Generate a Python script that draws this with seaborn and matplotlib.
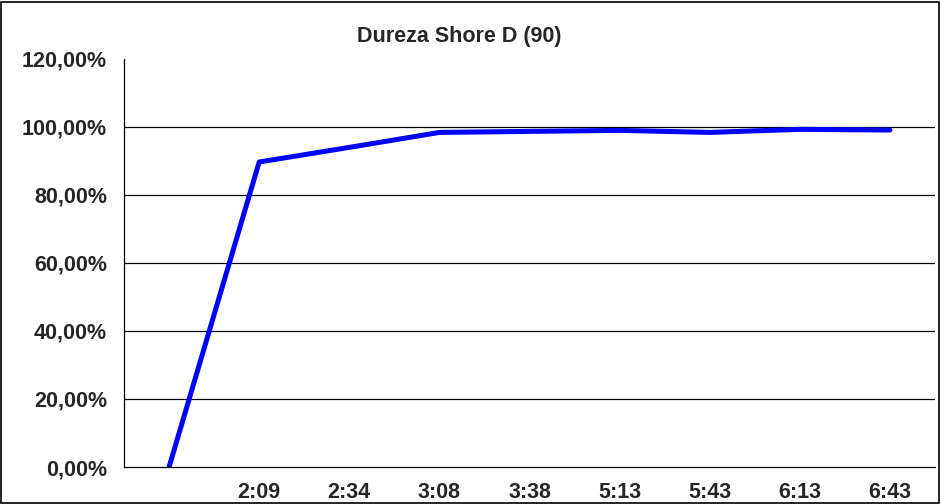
import matplotlib
matplotlib.use("Agg")
import matplotlib.pyplot as plt
import seaborn as sns
import pandas as pd
from matplotlib.patches import Rectangle
from matplotlib.ticker import FuncFormatter

sns.set_style("white")
plt.rcParams['font.family'] = ['Liberation Sans', 'DejaVu Sans']

# dados
tempos = ["", "2:09", "2:34", "3:08", "3:38", "5:13", "5:43", "6:13", "6:43"]
dureza = [0.0, 89.7, 94.0, 98.4, 98.7, 99.0, 98.4, 99.3, 99.1]

df = pd.DataFrame({"tempo": tempos, "dureza": dureza})

fig = plt.figure(figsize=(9.41, 5.04), dpi=100)
ax = fig.add_axes([0.1318, 0.0734, 0.8618, 0.8096])

sns.lineplot(data=df, x="tempo", y="dureza", color="#0000FF", linewidth=3.6,
             sort=False, ax=ax)

ax.set_xlim(-0.5, len(tempos) - 0.5)
ax.set_ylim(0, 120)
ax.set_yticks(range(0, 121, 20))
ax.yaxis.set_major_formatter(FuncFormatter(lambda v, p: f"{v:.2f}".replace(".", ",") + "%"))

for yv in range(20, 101, 20):
    ax.axhline(yv, color="black", linewidth=0.9, zorder=0)

ax.set_xticks(range(len(tempos)))
ax.set_xticklabels(tempos)
ax.set_xticks([i - 0.5 for i in range(len(tempos) + 1)], minor=True)
ax.tick_params(axis="x", which="major", length=0, pad=11)
ax.tick_params(axis="x", which="minor", length=5, width=0.9, color="black", direction="out")
ax.tick_params(axis="y", length=4.3, width=0.9, color="black", direction="out", pad=8)
ax.tick_params(axis="both", labelsize=15.5)
for lab in ax.get_xticklabels() + ax.get_yticklabels():
    lab.set_fontweight("bold")

ax.set_xlabel("")
ax.set_ylabel("")
for s in ["top", "right"]:
    ax.spines[s].set_visible(False)
for s in ["left", "bottom"]:
    ax.spines[s].set_color("black")
    ax.spines[s].set_linewidth(0.9)

fig.text(0.488, 0.927, "Dureza Shore D (90)", ha="center", va="center",
         fontsize=15.5, fontweight="bold")

fig.patches.append(Rectangle((0.001, 0.001), 0.997, 0.996, transform=fig.transFigure,
                             fill=False, edgecolor="black", linewidth=1.2))

fig.savefig("out.png", dpi=100)
